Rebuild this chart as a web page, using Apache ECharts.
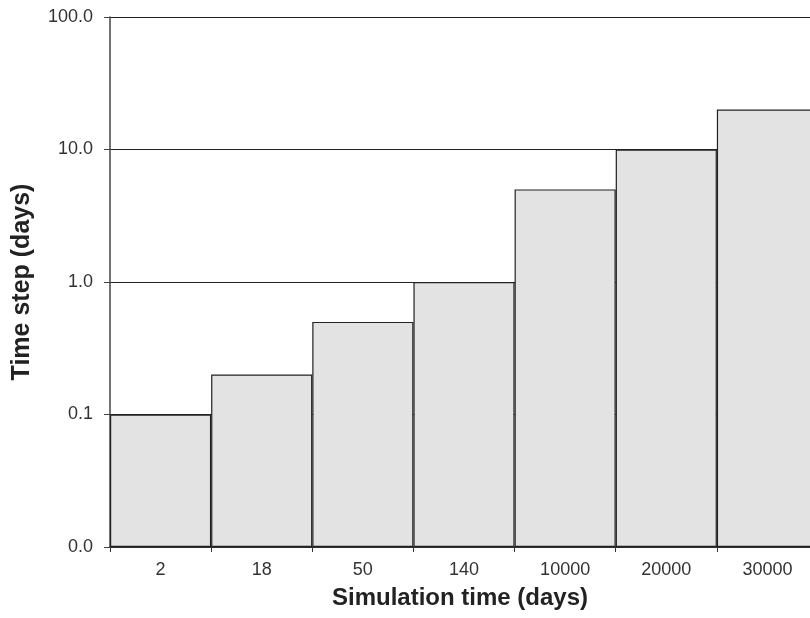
<!DOCTYPE html>
<html>
<head>
<meta charset="utf-8">
<script src="https://cdn.jsdelivr.net/npm/echarts@6/dist/echarts.min.js"></script>
<style>
  html, body { margin: 0; padding: 0; background: #fff; overflow: hidden; }
  /* canvas is a little wider than the window so the last column runs off the right edge */
  #chart { width: 830px; height: 618px; }
</style>
</head>
<body>
<div id="chart"></div>
<script>
// Simulation time checkpoints (days) and the time step used in each interval
const simulationDays = ['2', '18', '50', '140', '10000', '20000', '30000'];
const timeStepDays = [0.1, 0.2, 0.5, 1, 5, 10, 20];

// Log axis range
const yMin = 0.01;
const yMax = 100;

const FONT = 'Liberation Sans, Arial, sans-serif';

const chart = echarts.init(document.getElementById('chart'), null, { renderer: 'canvas' });

chart.setOption({
  animation: false,
  backgroundColor: '#ffffff',
  grid: { left: 110, top: 17, width: 708, height: 530, containLabel: false },
  xAxis: {
    type: 'category',
    data: simulationDays,
    boundaryGap: true,
    name: 'Simulation time (days)',
    nameLocation: 'middle',
    nameGap: 39,
    nameTextStyle: { fontFamily: FONT, fontSize: 24, fontWeight: 'bold', color: '#222', padding: [0, 8, 0, 0] },
    axisLine: { lineStyle: { color: '#333', width: 1.5 } },
    axisTick: { show: true, length: 5, interval: 0, lineStyle: { color: '#333', width: 1 } },
    axisLabel: { interval: 0, margin: 14, fontFamily: FONT, fontSize: 18, color: '#333' },
    splitLine: { show: false }
  },
  yAxis: {
    type: 'log',
    logBase: 10,
    min: yMin,
    max: yMax,
    startValue: yMin,
    name: 'Time step (days)',
    nameLocation: 'middle',
    nameGap: 75,
    nameTextStyle: { fontFamily: FONT, fontSize: 25, fontWeight: 'bold', color: '#222' },
    axisLine: { show: true, lineStyle: { color: '#444', width: 1.5 } },
    axisTick: { show: true, length: 6, lineStyle: { color: '#444', width: 1 } },
    axisLabel: {
      margin: 17,
      fontFamily: FONT,
      fontSize: 18,
      color: '#333',
      formatter: v => Number(v).toFixed(1)
    },
    splitLine: { show: true, lineStyle: { color: '#222', width: 1 } }
  },
  series: [{
    type: 'bar',
    data: timeStepDays,
    barWidth: '100%',
    barCategoryGap: 0,
    itemStyle: { color: '#e3e3e3', borderColor: '#222', borderWidth: 1.2 },
    z: 3
  }]
});
</script>
</body>
</html>
